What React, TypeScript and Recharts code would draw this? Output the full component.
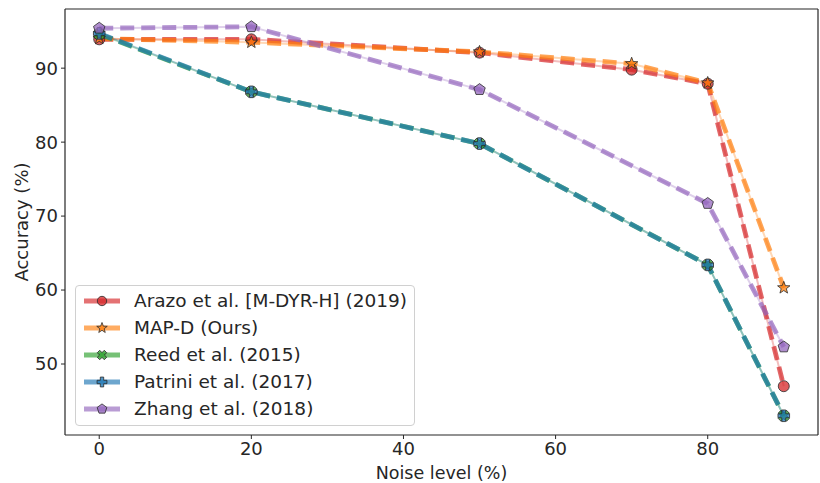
import React from "react";
import { LineChart, Line, XAxis, YAxis, Legend, ReferenceLine } from "recharts";

// values
const noiseArazo = [0, 20, 50, 70, 80, 90];
const accArazo = [93.9, 93.9, 92.1, 89.8, 87.9, 47.0];

const noiseMapd = [0, 20, 50, 70, 80, 90];
const accMapd = [94.0, 93.5, 92.2, 90.6, 88.0, 60.3];

const noiseReed = [0, 20, 50, 80, 90];
const accReed = [94.6, 86.8, 79.8, 63.4, 43.0];

const noisePatrini = [0, 20, 50, 80, 90];
const accPatrini = [94.7, 86.8, 79.8, 63.4, 43.0];

const noiseZhang = [0, 20, 50, 80, 90];
const accZhang = [95.4, 95.6, 87.1, 71.7, 52.3];

const xTicks = [0, 20, 40, 60, 80];
const yTicks = [50, 60, 70, 80, 90];

type Shape = "circle" | "star" | "xfill" | "plusfill" | "pentagon";

type Series = {
  name: string;
  xs: number[];
  ys: number[];
  color: string;
  shape: Shape;
};

const series: Series[] = [
  { name: "Arazo et al. [M-DYR-H] (2019)", xs: noiseArazo, ys: accArazo, color: "#d62728", shape: "circle" },
  { name: "MAP-D (Ours)", xs: noiseMapd, ys: accMapd, color: "#ff7f0e", shape: "star" },
  { name: "Reed et al. (2015)", xs: noiseReed, ys: accReed, color: "#2ca02c", shape: "xfill" },
  { name: "Patrini et al. (2017)", xs: noisePatrini, ys: accPatrini, color: "#1f77b4", shape: "plusfill" },
  { name: "Zhang et al. (2018)", xs: noiseZhang, ys: accZhang, color: "#9467bd", shape: "pentagon" },
];

const toPoints = (xs: number[], ys: number[]) =>
  xs.map((x, i) => ({ noise: x, acc: ys[i] }));

const FONT = '"DejaVu Sans", sans-serif';
const INK = "#262626";

const polyPoints = (cx: number, cy: number, pts: number[][]) =>
  pts.map(([x, y]) => `${cx + x},${cy + y}`).join(" ");

const Marker = ({ shape, cx, cy, color, k = 1 }: { shape: Shape; cx: number; cy: number; color: string; k?: number }) => {
  const common = { fill: color, fillOpacity: 0.75, stroke: "#2b2b2b", strokeWidth: 0.8 };
  if (shape === "circle") {
    return <circle cx={cx} cy={cy} r={5.5 * k} {...common} />;
  }
  if (shape === "star") {
    const pts: number[][] = [];
    for (let i = 0; i < 10; i++) {
      const r = (i % 2 === 0 ? 6.5 : 2.7) * k;
      const a = -Math.PI / 2 + (i * Math.PI) / 5;
      pts.push([r * Math.cos(a), r * Math.sin(a)]);
    }
    return <polygon points={polyPoints(cx, cy, pts)} {...common} />;
  }
  if (shape === "pentagon") {
    const pts: number[][] = [];
    for (let i = 0; i < 5; i++) {
      const a = -Math.PI / 2 + (i * 2 * Math.PI) / 5;
      pts.push([6 * k * Math.cos(a), 6 * k * Math.sin(a)]);
    }
    return <polygon points={polyPoints(cx, cy, pts)} {...common} />;
  }
  const a = 2 * k;
  const s = 5.8 * k;
  const plus = [
    [-a, -s], [a, -s], [a, -a], [s, -a], [s, a], [a, a],
    [a, s], [-a, s], [-a, a], [-s, a], [-s, -a], [-a, -a],
  ];
  if (shape === "xfill") {
    return (
      <polygon
        points={polyPoints(cx, cy, plus)}
        transform={`rotate(45 ${cx} ${cy})`}
        {...common}
      />
    );
  }
  return <polygon points={polyPoints(cx, cy, plus)} {...common} />;
};

const makeDot = (s: Series) => (props: any) => {
  const { cx, cy, index } = props;
  if (cx == null || cy == null) return <g key={`${s.shape}-${index}`} />;
  return (
    <g key={`${s.shape}-${index}`}>
      <Marker shape={s.shape} cx={cx} cy={cy} color={s.color} />
    </g>
  );
};

const LegendBox = () => (
  <div
    style={{
      border: "1px solid #d0d0d0",
      borderRadius: 4,
      background: "rgba(255,255,255,0.8)",
      padding: "2px 0 3px 0",
      fontFamily: FONT,
      fontSize: 18.5,
      color: INK,
      boxSizing: "border-box",
    }}
  >
    {series.map((s) => (
      <div key={s.name} style={{ display: "flex", alignItems: "center", height: 26.8 }}>
        <svg width={58} height={20} style={{ flex: "none" }}>
          <line x1={8} y1={10} x2={44} y2={10} stroke={s.color} strokeOpacity={0.65} strokeWidth={5} />
          <Marker shape={s.shape} cx={26} cy={10} color={s.color} k={0.85} />
        </svg>
        <span style={{ whiteSpace: "nowrap", lineHeight: "20px" }}>{s.name}</span>
      </div>
    ))}
  </div>
);

const App = () => {
  return (
    <div style={{ position: "absolute", left: 0, top: 0, width: 820, height: 483, background: "#fff" }}>
      <LineChart width={820} height={483} margin={{ top: 9, right: 2, left: 0, bottom: 0 }}>
        <XAxis
          dataKey="noise"
          type="number"
          domain={[-4.5, 94.5]}
          ticks={xTicks}
          allowDataOverflow
          height={48}
          tickSize={4}
          tickMargin={3}
          axisLine={{ stroke: INK, strokeWidth: 1.2 }}
          tickLine={{ stroke: INK }}
          tick={{ fill: INK, fontSize: 18, fontFamily: FONT }}
          label={{
            value: "Noise level (%)",
            position: "insideBottom",
            offset: 4,
            fill: INK,
            fontSize: 17.5,
            fontFamily: FONT,
          }}
        />
        <YAxis
          dataKey="acc"
          type="number"
          domain={[40.4, 98.0]}
          ticks={yTicks}
          allowDataOverflow
          width={65}
          tickSize={4}
          tickMargin={3}
          axisLine={{ stroke: INK, strokeWidth: 1.2 }}
          tickLine={{ stroke: INK }}
          tick={{ fill: INK, fontSize: 18, fontFamily: FONT }}
          label={{
            value: "Accuracy (%)",
            angle: -90,
            position: "insideLeft",
            offset: 22,
            fill: INK,
            fontSize: 18,
            fontFamily: FONT,
            style: { textAnchor: "middle" },
          }}
        />
        <ReferenceLine y={98.0} stroke={INK} strokeWidth={1.2} />
        <ReferenceLine x={94.5} stroke={INK} strokeWidth={1.2} />
        {series.map((s) => (
          <Line
            key={`${s.name}-under`}
            data={toPoints(s.xs, s.ys)}
            dataKey="acc"
            type="linear"
            stroke={s.color}
            strokeOpacity={0.3}
            strokeWidth={2}
            dot={false}
            activeDot={false}
            legendType="none"
            isAnimationActive={false}
          />
        ))}
        {series.map((s) => (
          <Line
            key={s.name}
            name={s.name}
            data={toPoints(s.xs, s.ys)}
            dataKey="acc"
            type="linear"
            stroke={s.color}
            strokeOpacity={0.7}
            strokeWidth={4.8}
            strokeDasharray="14 7"
            dot={makeDot(s)}
            activeDot={false}
            isAnimationActive={false}
          />
        ))}
        <Legend
          layout="vertical"
          align="center"
          verticalAlign="middle"
          wrapperStyle={{ left: 75, top: 285, width: 340 }}
          content={() => <LegendBox />}
        />
      </LineChart>
    </div>
  );
};

export default App;
